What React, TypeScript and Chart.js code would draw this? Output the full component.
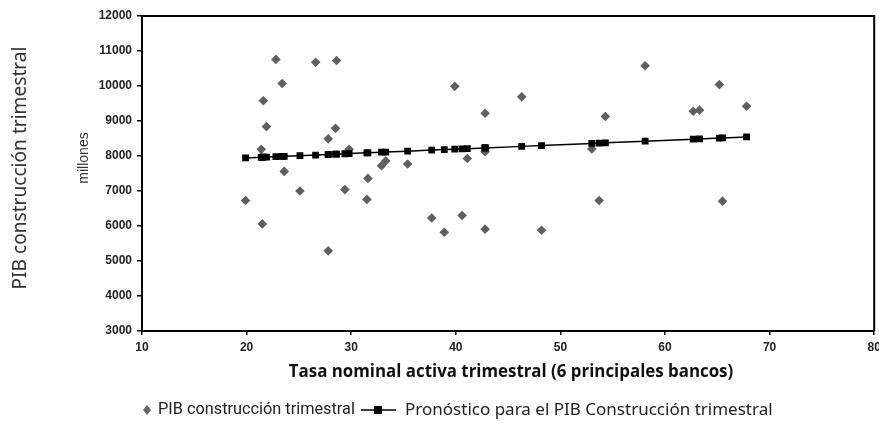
import React, { useEffect, useRef } from 'react';
import { Chart, registerables } from 'chart.js';

Chart.register(...registerables);

// Observed data: x = tasa nominal activa trimestral, y = PIB construcción trimestral (millones)
const tasa = [
  19.9, 21.4, 21.5, 21.6, 21.9, 22.8, 23.4, 23.6, 25.1, 26.6,
  27.8, 27.8, 28.5, 28.6, 29.4, 29.8, 31.5, 31.6, 32.9, 33.3,
  35.4, 37.7, 38.9, 39.9, 40.6, 41.1, 42.8, 42.8, 42.8, 46.3,
  48.2, 53.0, 53.7, 54.3, 58.1, 62.7, 63.3, 65.2, 65.5, 67.8,
];
const pibConstruccion = [
  6730, 8190, 6060, 9580, 8840, 10760, 10070, 7560, 7000, 10680,
  5290, 8490, 8790, 10730, 7040, 8190, 6760, 7360, 7720, 7860,
  7770, 6230, 5820, 9990, 6300, 7930, 9220, 8120, 5910, 9690,
  5880, 8200, 6730, 9130, 10580, 9280, 9310, 10040, 6710, 9420,
];
const pronostico = [
  7945, 7963, 7965, 7966, 7969, 7981, 7988, 7990, 8010, 8028,
  8043, 8044, 8052, 8053, 8064, 8069, 8090, 8091, 8108, 8112,
  8138, 8168, 8183, 8195, 8205, 8210, 8232, 8232, 8232, 8275,
  8299, 8360, 8369, 8376, 8423, 8481, 8489, 8513, 8516, 8546,
];

const xMin = 10;
const xMax = 80;
const xStep = 10;
const yMin = 3000;
const yMax = 12000;
const yStep = 1000;

const serie1Label = 'PIB construcción trimestral';
const serie2Label = 'Pronóstico para el PIB Construcción trimestral';
const xTitle = 'Tasa nominal activa trimestral (6 principales bancos)';
const yTitle = 'PIB construcción trimestral';
const yUnit = 'millones';

function fitFont(ctx: CanvasRenderingContext2D, text: string, weight: string, family: string, base: number, targetW: number) {
  ctx.font = `${weight} ${base}px ${family}`;
  const w = ctx.measureText(text).width;
  const size = (base * targetW) / w;
  ctx.font = `${weight} ${size}px ${family}`;
}

const decorPlugin = {
  id: 'decor',
  afterDraw(chart: any) {
    const ctx: CanvasRenderingContext2D = chart.ctx;
    const a = chart.chartArea;
    ctx.save();
    // box
    ctx.strokeStyle = '#000';
    ctx.lineWidth = 2;
    ctx.beginPath();
    ctx.moveTo(a.left, a.top);
    ctx.lineTo(a.right, a.top);
    ctx.lineTo(a.right, a.bottom);
    ctx.stroke();

    // x title
    ctx.fillStyle = '#111';
    ctx.textAlign = 'center';
    ctx.textBaseline = 'middle';
    fitFont(ctx, xTitle, 'bold', '"Open Sans", sans-serif', 18, 445);
    ctx.fillText(xTitle, 511, 372);

    // y title (rotated)
    ctx.save();
    ctx.translate(21, 168);
    ctx.rotate(-Math.PI / 2);
    ctx.fillStyle = '#333';
    fitFont(ctx, yTitle, 'normal', '"Noto Sans", sans-serif', 17, 243);
    ctx.fillText(yTitle, 0, 0);
    ctx.restore();

    // unit label
    ctx.save();
    ctx.translate(84, 158);
    ctx.rotate(-Math.PI / 2);
    ctx.fillStyle = '#333';
    ctx.font = 'normal 14px "Liberation Sans", sans-serif';
    ctx.fillText(yUnit, 0, 0);
    ctx.restore();

    // legend
    const ly = 410;
    ctx.fillStyle = '#666';
    ctx.beginPath();
    ctx.moveTo(147, ly - 5);
    ctx.lineTo(151, ly);
    ctx.lineTo(147, ly + 5);
    ctx.lineTo(143, ly);
    ctx.closePath();
    ctx.fill();

    ctx.fillStyle = '#222';
    ctx.textAlign = 'left';
    fitFont(ctx, serie1Label, 'normal', '"Liberation Sans Narrow", Roboto, sans-serif', 16, 197);
    ctx.fillText(serie1Label, 158, ly);

    ctx.strokeStyle = '#000';
    ctx.lineWidth = 1.5;
    ctx.beginPath();
    ctx.moveTo(361, ly);
    ctx.lineTo(396, ly);
    ctx.stroke();
    ctx.fillStyle = '#000';
    ctx.fillRect(374, ly - 4, 8, 8);

    ctx.fillStyle = '#222';
    fitFont(ctx, serie2Label, 'normal', '"Noto Sans", sans-serif', 13, 368);
    ctx.fillText(serie2Label, 405, ly);
    ctx.restore();
  },
};

export default function App() {
  const ref = useRef<HTMLCanvasElement | null>(null);

  useEffect(() => {
    if (!ref.current) return;
    const obs = tasa.map((x, i) => ({ x, y: pibConstruccion[i] }));
    const fc = tasa
      .map((x, i) => ({ x, y: pronostico[i] }))
      .sort((p, q) => p.x - q.x);

    const tickFont = { family: '"Liberation Sans", Arial, sans-serif', size: 12, weight: 'bold' as const };

    const chart = new Chart(ref.current, {
      type: 'scatter',
      data: {
        datasets: [
          {
            label: serie2Label,
            data: fc,
            showLine: true,
            borderColor: '#000',
            borderWidth: 1.5,
            backgroundColor: '#000',
            pointStyle: 'rect',
            pointRadius: 4.8,
            pointBorderWidth: 0,
          },
          {
            label: serie1Label,
            data: obs,
            showLine: false,
            backgroundColor: '#5f5f5f',
            borderColor: '#5f5f5f',
            pointStyle: 'rectRot',
            pointRadius: 4.8,
            pointBorderWidth: 0,
          },
        ],
      },
      options: {
        animation: false,
        responsive: false,
        devicePixelRatio: 1,
        layout: { padding: { top: 16, right: 2, left: 0, bottom: 0 } },
        plugins: { legend: { display: false }, tooltip: { enabled: false } },
        scales: {
          x: {
            type: 'linear',
            min: xMin,
            max: xMax,
            ticks: { stepSize: xStep, color: '#222', font: tickFont, padding: 5, maxRotation: 0, autoSkip: false },
            grid: { drawOnChartArea: false, drawTicks: true, tickLength: 4, color: '#000', lineWidth: 1.5 },
            border: { display: true, color: '#000', width: 2 },
            afterFit: (s: any) => {
              s.height = 92;
              s.paddingLeft = 0;
              s.paddingRight = 0;
            },
          },
          y: {
            type: 'linear',
            min: yMin,
            max: yMax,
            ticks: { stepSize: yStep, color: '#222', font: tickFont, padding: 5, callback: (v: any) => String(v) },
            grid: { drawOnChartArea: false, drawTicks: true, tickLength: 5, color: '#000', lineWidth: 1.5 },
            border: { display: true, color: '#000', width: 2 },
            afterFit: (s: any) => {
              s.width = 142;
              s.paddingTop = 0;
              s.paddingBottom = 0;
            },
          },
        },
      },
      plugins: [decorPlugin],
    });
    return () => chart.destroy();
  }, []);

  return (
    <div style={{ position: 'absolute', left: 0, top: 0, width: 879, height: 423, background: '#fff' }}>
      <canvas ref={ref} width={879} height={423} style={{ width: 879, height: 423 }} />
    </div>
  );
}
